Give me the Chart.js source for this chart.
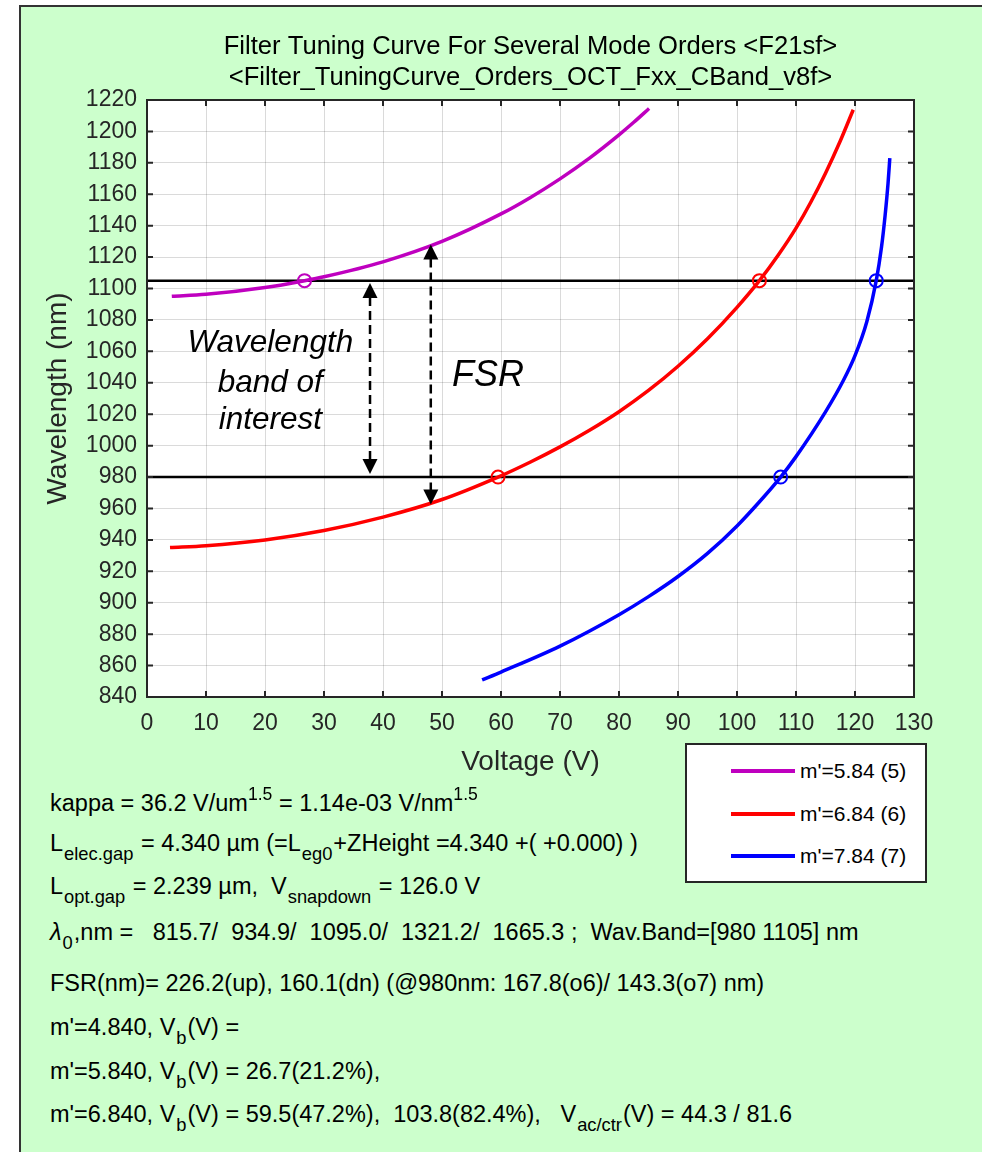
<!DOCTYPE html>
<html>
<head>
<meta charset="utf-8">
<script src="https://cdn.jsdelivr.net/npm/chart.js@4.4.0/dist/chart.umd.min.js"></script>
<style>
  body { margin: 0; background: #fff; font-family: "Liberation Sans", Arial, sans-serif; }
  #fig { position: absolute; left: 19px; top: 5px; width: 980px; height: 1160px;
         background: #ccffcc; border-left: 2px solid #333; border-top: 2px solid #333; }
  #page { position: absolute; left: 0; top: 0; width: 982px; height: 1152px; overflow: hidden; }
  #c { position: absolute; left: 0; top: 0; }
  #legend { position: absolute; left: 685px; top: 743px; width: 238px; height: 136px;
            background: #fff; border: 2px solid #262626; }
  .lg-row { position: absolute; left: 0; height: 24px; }
  .lg-line { position: absolute; left: 44px; top: 10px; width: 64px; height: 4px; }
  .lg-text { position: absolute; left: 113px; top: 0; font-size: 21px; line-height: 24px; color: #000; white-space: pre; }
  .info { position: absolute; left: 50px; font-size: 23.5px; line-height: 24px; color: #000; white-space: pre; }
  .info sub { font-size: 0.78em; vertical-align: baseline; position: relative; top: 0.5em; margin: 0 1px; }
  .info sup { font-size: 0.75em; vertical-align: baseline; position: relative; top: -0.6em; }
</style>
</head>
<body>
<div id="fig"></div>
<div id="page">
  <canvas id="c" width="982" height="790"></canvas>
  <div id="legend"></div>
  <div class="info" style="top:791px">kappa = 36.2 V/um<sup>1.5</sup> = 1.14e-03 V/nm<sup>1.5</sup></div>
  <div class="info" style="top:831px">L<sub>elec.gap</sub> = 4.340 µm (=L<sub>eg0</sub>+ZHeight =4.340 +( +0.000) )</div>
  <div class="info" style="top:874px">L<sub>opt.gap</sub> = 2.239 µm,  V<sub>snapdown</sub> = 126.0 V</div>
  <div class="info" style="top:920px"><i>λ</i><sub>0</sub>,nm =   815.7/  934.9/  1095.0/  1321.2/  1665.3 ;  Wav.Band=[980 1105] nm</div>
  <div class="info" style="top:971px">FSR(nm)= 226.2(up), 160.1(dn) (@980nm: 167.8(o6)/ 143.3(o7) nm)</div>
  <div class="info" style="top:1015px">m'=4.840, V<sub>b</sub>(V) = </div>
  <div class="info" style="top:1059px">m'=5.840, V<sub>b</sub>(V) = 26.7(21.2%),</div>
  <div class="info" style="top:1102px">m'=6.840, V<sub>b</sub>(V) = 59.5(47.2%),  103.8(82.4%),   V<sub>ac/ctr</sub>(V) = 44.3 / 81.6</div>
</div>
<script>
// ===== chart data =====
const titleLines = [
  "Filter Tuning Curve For Several Mode Orders <F21sf>",
  "<Filter_TuningCurve_Orders_OCT_Fxx_CBand_v8f>"
];
const xTicks = [0, 10, 20, 30, 40, 50, 60, 70, 80, 90, 100, 110, 120, 130];
const yTicks = [840, 860, 880, 900, 920, 940, 960, 980, 1000, 1020, 1040, 1060, 1080,
                1100, 1120, 1140, 1160, 1180, 1200, 1220];

const seriesNames = ["m'=5.84 (5)", "m'=6.84 (6)", "m'=7.84 (7)"];
const seriesColors = ["#bf00bf", "#ff0000", "#0000ff"];

// mode 5 (magenta)
const magV = [4.2, 10, 20, 26.7, 30, 40, 50, 60, 65, 70, 75, 80, 82.5, 85.1];
const magL = [1095.1, 1096.3, 1100.6, 1105, 1107.5, 1117, 1130, 1147.5, 1158, 1169.8,
              1183, 1197.8, 1205.8, 1214.6];
// mode 6 (red)
const redV = [3.9, 10, 20, 30, 40, 50, 59.5, 65, 70, 75, 80, 85, 90, 95, 100, 103.8, 107,
              110, 112.5, 115, 117.5, 119.7];
const redL = [935.1, 936.3, 940, 946, 954.5, 965.7, 980, 989.6, 999.2, 1009.8, 1021.6, 1035.1,
              1050.5, 1068, 1088, 1105, 1121.3, 1138.4, 1154.9, 1173.4, 1193.9, 1213.8];
// mode 7 (blue)
const blueV = [56.8, 60, 70, 80, 85, 90, 95, 100, 104, 107.4, 110, 115, 118, 120, 122, 123.6,
               124.5, 125.1, 125.6, 125.9];
const blueL = [850.9, 855.9, 872.4, 892.4, 903.9, 916.7, 931.4, 948.9, 965.1, 980, 993,
               1021.5, 1041.3, 1057.3, 1078.9, 1105, 1126.6, 1146.4, 1166.9, 1183];

// band edges (nm) and crossing markers
const bandEdges = [980, 1105];
const markV = [[26.7], [59.5, 103.8], [107.4, 123.6]];
const markL = [[1105], [980, 1105], [980, 1105]];

// dashed double arrows: voltage, lower end, upper end
const bandArrow = { v: 37.8, lo: 982, hi: 1103.5 };
const fsrArrow  = { v: 48.1, lo: 962.5, hi: 1128 };

// ===== build datasets =====
function pts(xs, ys) { return xs.map((x, i) => ({ x: x, y: ys[i] })); }

const curves = [pts(magV, magL), pts(redV, redL), pts(blueV, blueL)];
const datasets = [];

bandEdges.forEach(l => {
  datasets.push({ data: [{ x: xTicks[0], y: l }, { x: xTicks[xTicks.length - 1], y: l }],
    borderColor: "#000", borderWidth: 2.5, pointRadius: 0, order: 3 });
});
curves.forEach((c, i) => {
  datasets.push({ data: c, borderColor: seriesColors[i], borderWidth: 3.5, pointRadius: 0,
    cubicInterpolationMode: "monotone", order: 2 });
});
markV.forEach((vs, i) => {
  datasets.push({ data: pts(vs, markL[i]), showLine: false, pointRadius: 6.5,
    pointBorderWidth: 2, pointBorderColor: seriesColors[i],
    pointBackgroundColor: "rgba(0,0,0,0)", order: 1 });
});

// legend (html)
const legend = document.getElementById("legend");
seriesNames.forEach((name, i) => {
  const row = document.createElement("div");
  row.className = "lg-row";
  row.style.top = (14 + i * 42.5) + "px";
  row.style.width = "100%";
  row.innerHTML = `<div class="lg-line" style="background:${seriesColors[i]}"></div>` +
                  `<div class="lg-text">${name}</div>`;
  legend.appendChild(row);
});

// ===== drawing helpers =====
const AX = "#262626";
const FONT = '"Liberation Sans", Arial, sans-serif';

function drawArrow(ctx, x, y1, y2) {
  // y1 = top pixel, y2 = bottom pixel
  const hl = 15, hw = 7.5;
  ctx.save();
  ctx.strokeStyle = "#000"; ctx.fillStyle = "#000";
  ctx.lineWidth = 2.5; ctx.setLineDash([9, 5]);
  ctx.beginPath(); ctx.moveTo(x, y1 + hl - 1); ctx.lineTo(x, y2 - hl + 1); ctx.stroke();
  ctx.setLineDash([]);
  ctx.beginPath(); ctx.moveTo(x, y1); ctx.lineTo(x - hw, y1 + hl); ctx.lineTo(x + hw, y1 + hl); ctx.closePath(); ctx.fill();
  ctx.beginPath(); ctx.moveTo(x, y2); ctx.lineTo(x - hw, y2 - hl); ctx.lineTo(x + hw, y2 - hl); ctx.closePath(); ctx.fill();
  ctx.restore();
}

const decor = {
  id: "decor",
  beforeDraw(chart) {
    const { ctx, chartArea: a } = chart;
    ctx.save();
    ctx.fillStyle = "#fff";
    ctx.fillRect(a.left, a.top, a.right - a.left, a.bottom - a.top);
    ctx.restore();
  },
  afterDatasetsDraw(chart) {
    const { ctx, scales: { x, y } } = chart;
    [bandArrow, fsrArrow].forEach(ar => {
      drawArrow(ctx, x.getPixelForValue(ar.v), y.getPixelForValue(ar.hi), y.getPixelForValue(ar.lo));
    });
    ctx.save();
    ctx.fillStyle = "#000";
    ctx.textAlign = "center"; ctx.textBaseline = "middle";
    ctx.font = "italic 31.5px " + FONT;
    const tx = x.getPixelForValue(20.9);
    ctx.fillText("Wavelength", tx, y.getPixelForValue(1065.3));
    ctx.fillText("band of", tx, y.getPixelForValue(1039.9));
    ctx.fillText("interest", tx, y.getPixelForValue(1016.3));
    ctx.font = "italic 36px " + FONT;
    ctx.fillText("FSR", x.getPixelForValue(57.8), y.getPixelForValue(1044.3));
    ctx.restore();
  },
  afterDraw(chart) {
    const { ctx, chartArea: a, scales: { x, y } } = chart;
    ctx.save();
    ctx.strokeStyle = AX; ctx.lineWidth = 2;
    ctx.strokeRect(a.left, a.top, a.right - a.left, a.bottom - a.top);
    ctx.beginPath();
    xTicks.forEach(v => {
      const px = x.getPixelForValue(v);
      ctx.moveTo(px, a.bottom); ctx.lineTo(px, a.bottom - 6);
      ctx.moveTo(px, a.top); ctx.lineTo(px, a.top + 6);
    });
    yTicks.forEach(v => {
      const py = y.getPixelForValue(v);
      ctx.moveTo(a.left, py); ctx.lineTo(a.left + 6, py);
      ctx.moveTo(a.right, py); ctx.lineTo(a.right - 6, py);
    });
    ctx.stroke();

    const cx = (a.left + a.right) / 2;
    ctx.fillStyle = "#000";
    ctx.textAlign = "center"; ctx.textBaseline = "middle";
    ctx.font = "25.6px " + FONT;
    ctx.fillText(titleLines[0], cx, 47);
    ctx.fillText(titleLines[1], cx, 78);

    ctx.fillStyle = AX;
    ctx.font = "28px " + FONT;
    ctx.fillText("Voltage (V)", cx, 762);
    ctx.translate(58, (a.top + a.bottom) / 2);
    ctx.rotate(-Math.PI / 2);
    ctx.fillText("Wavelength (nm)", 0, 0);
    ctx.restore();
  }
};

new Chart(document.getElementById("c"), {
  type: "line",
  data: { datasets: datasets },
  options: {
    responsive: false,
    animation: false,
    devicePixelRatio: 1,
    layout: { padding: { top: 100, right: 68, left: 0, bottom: 0 } },
    plugins: { legend: { display: false }, tooltip: { enabled: false }, title: { display: false } },
    scales: {
      x: {
        type: "linear", min: xTicks[0], max: xTicks[xTicks.length - 1],
        afterBuildTicks: s => { s.ticks = xTicks.map(v => ({ value: v })); },
        afterFit: s => { s.height = 93; },
        grid: { color: "rgba(38,38,38,0.17)", lineWidth: 1, drawTicks: false },
        border: { display: false },
        ticks: { color: AX, font: { family: FONT, size: 23 }, padding: 13, maxRotation: 0,
                 autoSkip: false, callback: v => String(v) }
      },
      y: {
        type: "linear", min: yTicks[0], max: yTicks[yTicks.length - 1],
        afterBuildTicks: s => { s.ticks = yTicks.map(v => ({ value: v })); },
        afterFit: s => { s.width = 147; },
        grid: { color: "rgba(38,38,38,0.17)", lineWidth: 1, drawTicks: false },
        border: { display: false },
        ticks: { color: AX, font: { family: FONT, size: 23 }, padding: 10, autoSkip: false,
                 callback: v => String(v) }
      }
    }
  },
  plugins: [decor]
});
</script>
</body>
</html>
